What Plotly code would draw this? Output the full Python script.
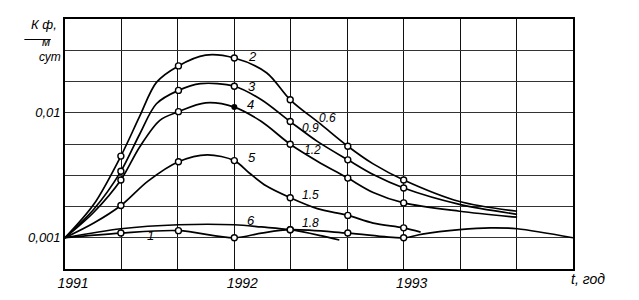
import math
import plotly.graph_objects as go

# ---- data (t in years, K_f in m/day) ----
t2 = [1991.0, 1991.17, 1991.33, 1991.44, 1991.54, 1991.67, 1991.83, 1992.0, 1992.19, 1992.33, 1992.51, 1992.67, 1992.82, 1993.0, 1993.33, 1993.67]
k2 = [0.0010, 0.00185, 0.0045, 0.0093, 0.0175, 0.0237, 0.0289, 0.0274, 0.0209, 0.0127, 0.0081, 0.0054, 0.0039, 0.0029, 0.00195, 0.00163]

t3 = [1991.0, 1991.17, 1991.33, 1991.44, 1991.54, 1991.67, 1991.80, 1992.0, 1992.16, 1992.33, 1992.49, 1992.67, 1992.82, 1993.0, 1993.33, 1993.67]
k3 = [0.0010, 0.00169, 0.0034, 0.0067, 0.0118, 0.0151, 0.0171, 0.0163, 0.0127, 0.0085, 0.0059, 0.0042, 0.0032, 0.0025, 0.00185, 0.00154]

t4 = [1991.0, 1991.17, 1991.33, 1991.44, 1991.56, 1991.67, 1991.83, 1992.0, 1992.16, 1992.33, 1992.49, 1992.67, 1992.82, 1993.0, 1993.33, 1993.67]
k4 = [0.0010, 0.0016, 0.0029, 0.0053, 0.0087, 0.0102, 0.0120, 0.0111, 0.0085, 0.0056, 0.0041, 0.0030, 0.0023, 0.0019, 0.00163, 0.00146]

t5 = [1991.0, 1991.17, 1991.33, 1991.49, 1991.67, 1991.84, 1992.0, 1992.09, 1992.19, 1992.33, 1992.49, 1992.67, 1992.82, 1993.0, 1993.10]
k5 = [0.0010, 0.00131, 0.00181, 0.00284, 0.00406, 0.00461, 0.00414, 0.00328, 0.00259, 0.00209, 0.00171, 0.00151, 0.00131, 0.00120, 0.00111]

t6 = [1991.0, 1991.33, 1991.67, 1992.0, 1992.16, 1992.33, 1992.51, 1992.62]
k6 = [0.0010, 0.00118, 0.00127, 0.00127, 0.00122, 0.00116, 0.00104, 0.00096]

t1 = [1991.0, 1991.33, 1991.67, 1992.0, 1992.16, 1992.33, 1992.67, 1993.0, 1993.11, 1993.33, 1993.51, 1993.67, 1994.0]
k1 = [0.0010, 0.00109, 0.00114, 0.0010, 0.00109, 0.00116, 0.00109, 0.0010, 0.00107, 0.00116, 0.00120, 0.00118, 0.0010]

# indices of points carrying a circle marker
marks_open = {"2": [2, 5, 7, 9, 11, 13], "3": [2, 5, 7, 9, 11, 13],
              "4": [2, 5, 9, 11, 13], "5": [2, 4, 6, 9, 11, 13],
              "6": [5], "1": [1, 2, 3, 5, 6, 7]}
marks_filled = {"4": [7]}

# curve labels: (text, t, K)
curve_labels = [("2", 1992.07, 0.0284), ("3", 1992.07, 0.0163), ("4", 1992.065, 0.0116),
                ("5", 1992.07, 0.0044), ("6", 1992.065, 0.00138), ("1", 1991.47, 0.00104)]
perm_labels = [("0.6", 1992.49, 0.0091), ("0.9", 1992.39, 0.0076), ("1.2", 1992.40, 0.0050),
               ("1.5", 1992.39, 0.0022), ("1.8", 1992.39, 0.00131)]

x_ticks = [1991 + i / 3 for i in range(10)]
x_tick_text = ["1991", "", "", "1992", "", "", "1993", "", "", ""]
y_ticks = [10 ** (-3.25 + 0.25 * i) for i in range(9)]
y_tick_text = ["", "0,001", "", "", "", "0,01", "", "", ""]

curves = {"2": (t2, k2), "3": (t3, k3), "4": (t4, k4), "5": (t5, k5), "6": (t6, k6), "1": (t1, k1)}

FONT = "Liberation Sans"
fig = go.Figure()
for name, (tt, kk) in curves.items():
    fig.add_trace(go.Scatter(x=tt, y=kk, mode="lines", line=dict(color="black", width=1.7, shape="spline", smoothing=0.9),
                             showlegend=False, hoverinfo="skip"))
for name, idx in marks_open.items():
    tt, kk = curves[name]
    fig.add_trace(go.Scatter(x=[tt[i] for i in idx], y=[kk[i] for i in idx], mode="markers",
                             marker=dict(symbol="circle", size=6, color="white", line=dict(color="black", width=1.4)),
                             showlegend=False))
for name, idx in marks_filled.items():
    tt, kk = curves[name]
    fig.add_trace(go.Scatter(x=[tt[i] for i in idx], y=[kk[i] for i in idx], mode="markers",
                             marker=dict(symbol="circle", size=6, color="black"), showlegend=False))

for txt, tx, ky in curve_labels + perm_labels:
    fig.add_annotation(x=tx, y=math.log10(ky), text=txt, showarrow=False, xanchor="left", yanchor="middle",
                       font=dict(family=FONT, size=13 if len(txt) == 1 else 12, color="black", style="italic"))

# axis titles
fig.add_annotation(xref="paper", yref="paper", x=-0.07, y=1.015, text="К ф,", showarrow=False,
                   font=dict(family=FONT, size=13, color="black", style="italic"))
fig.add_annotation(xref="paper", yref="paper", x=-0.05, y=0.945, text="м", showarrow=False,
                   font=dict(family=FONT, size=12, color="black", style="italic"))
fig.add_annotation(xref="paper", yref="paper", x=-0.055, y=0.885, text="сут", showarrow=False,
                   font=dict(family=FONT, size=12, color="black", style="italic"))
fig.add_shape(type="line", xref="paper", yref="paper", x0=-0.08, x1=-0.028, y0=0.918, y1=0.918,
              line=dict(color="black", width=1))
fig.add_annotation(xref="paper", yref="paper", x=1.03, y=-0.04, text="t, год", showarrow=False,
                   xanchor="center", yanchor="middle",
                   font=dict(family=FONT, size=14, color="black", style="italic"))

fig.update_xaxes(range=[1991, 1994], tickvals=x_ticks, ticktext=x_tick_text, showgrid=True,
                 gridcolor="#111", gridwidth=1.4, showline=True, mirror=True, linecolor="black", linewidth=1.6,
                 zeroline=False, ticks="", ticklabelshift=8,
                 tickfont=dict(family=FONT, size=14, color="black", style="italic"))
fig.update_yaxes(type="log", range=[-3.25, -1.25], tickvals=y_ticks, ticktext=y_tick_text, showgrid=True,
                 gridcolor="#333", gridwidth=1.1, showline=True, mirror=True, linecolor="black", linewidth=1.6,
                 zeroline=False, ticks="",
                 tickfont=dict(family=FONT, size=13, color="black", style="italic"))
fig.update_layout(width=631, height=292, margin=dict(l=57, r=66, t=9, b=27),
                  paper_bgcolor="white", plot_bgcolor="white")
fig.write_html("out.html")
